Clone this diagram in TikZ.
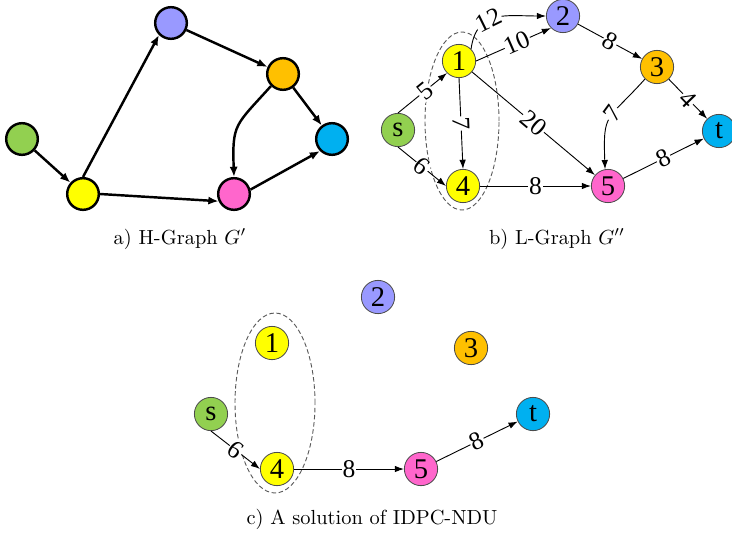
\documentclass[tikz,border=0pt]{standalone}
\usepackage{fontspec}
\newfontfamily\tmsfont{Liberation Serif}
\usepackage{tikz}
\usetikzlibrary{positioning,arrows.meta}
\usepackage{amsmath}

\definecolor{cs}{HTML}{92D050}
\definecolor{cone}{HTML}{FFFF00}
\definecolor{ctwo}{HTML}{9999FF}
\definecolor{cthree}{HTML}{FFC000}
\definecolor{ct}{HTML}{00B0F0}
\definecolor{cfive}{HTML}{FF66CC}

\begin{document}
\begin{tikzpicture}[x=0.49pt, y=0.49pt,
        hv/.style={circle, draw=black, line width=1.2pt, minimum size=15.5pt, inner sep=0pt},
        lv/.style={circle, draw=black!70, line width=0.4pt, minimum size=16.3pt, inner sep=0pt, font=\tmsfont\fontsize{14}{14}\selectfont},
        harc/.style={-{Latex[length=5pt,width=4pt]}, line width=1.2pt},
        larc/.style={-{Latex[length=4.5pt,width=3.2pt]}, line width=0.45pt},
        wt/.style={sloped, fill=white, inner sep=0.4pt, font=\tmsfont\fontsize{12.5}{12.5}\selectfont},
        grp/.style={draw=black!65, dash pattern=on 2.2pt off 1.3pt, line width=0.45pt}]
        
        \useasboundingbox (0,0) rectangle (732,-537);
        
        % a) H-Graph
        \node[hv, fill=cs] (as) at (22,-139) {};
        \node[hv, fill=cone] (a4) at (83,-194) {};
        \node[hv, fill=ctwo] (a2) at (171,-23) {};
        \node[hv, fill=cthree] (a3) at (283,-74) {};
        \node[hv, fill=ct] (at) at (332,-139) {};
        \node[hv, fill=cfive] (a5) at (234,-194) {};
        
        \draw[harc] (as) -- (a4);
        \draw[harc] (a4.north) -- (a2.south west);
        \draw[harc] (a2) -- (a3);
        \draw[harc] (a3) -- (at);
        \draw[harc] (a3.south west) to[out=228, in=92, looseness=1.4] (a5.north);
        \draw[harc] (a4.east) -- (a5.205);
        \draw[harc] (a5.15) -- (at.south west);
        
        \node (capa) at (180,-239) {a) H-Graph $G'$};
        
        % b) L-Graph
        \draw[grp] (462,-121) ellipse (37 and 89);
        
        \node[lv, fill=cs] (bs) at (398,-130) {s};
        \node[lv, fill=cone] (b1) at (459,-61) {1};
        \node[lv, fill=ctwo] (b2) at (563,-16) {2};
        \node[lv, fill=cthree] (b3) at (657,-67) {3};
        \node[lv, fill=ct] (bt) at (719,-131) {t};
        \node[lv, fill=cone] (b4) at (463,-186) {4};
        \node[lv, fill=cfive] (b5) at (608,-186) {5};
        
        \draw[larc] (bs.north) -- node[wt, pos=0.55] {5} (b1.south west);
        \draw[larc] (bs.south) -- node[wt] {6} (b4.west);
        \draw[larc] (b1.north east) to[out=82, in=180, looseness=1.25] node[wt, pos=0.4] {12} (b2.west);
        \draw[larc] (b1.east) -- node[wt, pos=0.55] {10} (b2.south west);
        \draw[larc] (b1.south) -- node[wt] {7} (b4.north);
        \draw[larc] (b1) -- node[wt] {20} (b5);
        \draw[larc] (b2) -- node[wt] {8} (b3);
        \draw[larc] (b3) -- node[wt] {4} (bt);
        \draw[larc] (b3.south west) to[out=228, in=92, looseness=1.5] node[wt, pos=0.42] {7} (b5.100);
        \draw[larc] (b4.east) -- node[wt] {8} (b5.west);
        \draw[larc] (b5) -- node[wt] {8} (bt);
        
        \node (capb) at (557,-239) {b) L-Graph $G''$};
        
        % c) solution
        \draw[grp] (275,-403) ellipse (40 and 90);
        
        \node[lv, fill=cs] (cs) at (211,-414) {s};
        \node[lv, fill=cone] (c1) at (272,-343) {1};
        \node[lv, fill=ctwo] (c2) at (378,-297) {2};
        \node[lv, fill=cthree] (c3) at (471,-348) {3};
        \node[lv, fill=ct] (ct) at (533,-414) {t};
        \node[lv, fill=cone] (c4) at (277,-469) {4};
        \node[lv, fill=cfive] (c5) at (421,-469) {5};
        
        \draw[larc] (cs.south) -- node[wt] {6} (c4.west);
        \draw[larc] (c4.east) -- node[wt] {8} (c5.west);
        \draw[larc] (c5) -- node[wt] {8} (ct);
        
        \node (capc) at (372,-519) {c) A solution of IDPC-NDU};
        
        \end{tikzpicture}
\end{document}
